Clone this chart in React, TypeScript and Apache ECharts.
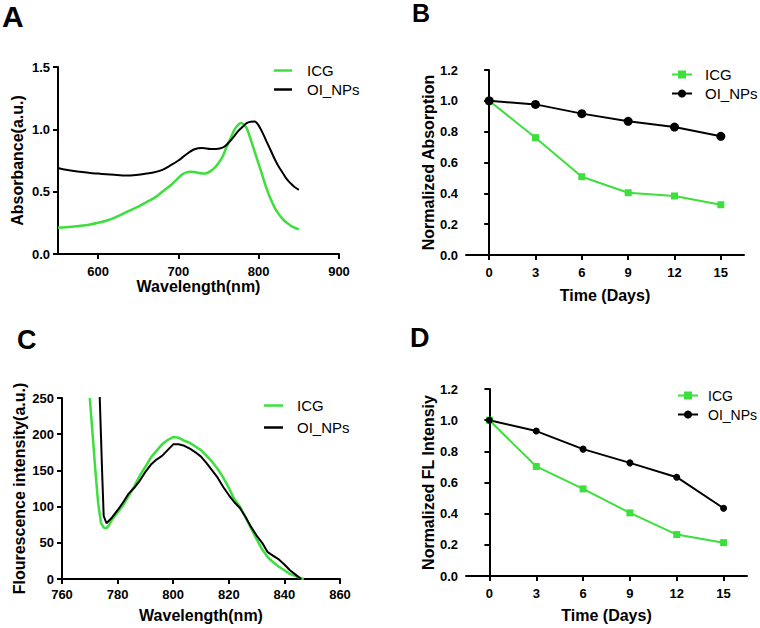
import React, { useEffect, useRef } from "react";
import * as echarts from "echarts";

const GREEN = "#3ddf3d";
const BLACK = "#000000";
const FONT = "Liberation Sans, Arial, sans-serif";

// Panel A: absorbance spectra
const aWlICG = [550, 560, 570, 580, 590, 600, 610, 620, 630, 640, 650, 660, 670, 680, 690, 700, 705, 710, 715, 720, 725, 730, 735, 740, 745, 750, 755, 760, 765, 770, 775, 778, 781, 785, 790, 795, 800, 805, 810, 815, 820, 825, 830, 835, 840, 845, 850];
const aICG = [0.21, 0.215, 0.22, 0.228, 0.237, 0.25, 0.267, 0.29, 0.32, 0.35, 0.38, 0.415, 0.45, 0.5, 0.55, 0.61, 0.64, 0.655, 0.66, 0.658, 0.65, 0.645, 0.648, 0.665, 0.69, 0.73, 0.78, 0.86, 0.93, 1.0, 1.04, 1.05, 1.04, 1.01, 0.92, 0.82, 0.72, 0.62, 0.52, 0.44, 0.37, 0.32, 0.28, 0.25, 0.227, 0.21, 0.198];
const aWlOI = [550, 560, 570, 580, 590, 600, 610, 620, 630, 640, 650, 660, 670, 680, 690, 700, 710, 720, 730, 740, 750, 757, 765, 770, 775, 780, 785, 790, 795, 800, 805, 810, 815, 820, 825, 830, 835, 840, 845, 850];
const aOI = [0.69, 0.675, 0.665, 0.657, 0.65, 0.645, 0.64, 0.635, 0.63, 0.63, 0.635, 0.645, 0.655, 0.675, 0.71, 0.75, 0.8, 0.84, 0.85, 0.842, 0.845, 0.86, 0.91, 0.95, 0.99, 1.02, 1.05, 1.06, 1.062, 1.03, 0.97, 0.9, 0.83, 0.76, 0.7, 0.65, 0.6, 0.565, 0.535, 0.515];

// Panel B: normalized absorption vs time
const days = [0, 3, 6, 9, 12, 15];
const bICG = [1.0, 0.761, 0.508, 0.404, 0.383, 0.326];
const bOI = [1.0, 0.977, 0.917, 0.867, 0.83, 0.77];

// Panel C: fluorescence spectra
const cWlICG = [770, 771, 772, 773, 774, 775, 776, 777, 778, 780, 782, 784, 786, 788, 790, 792, 794, 796, 798, 800, 802, 804, 806, 808, 810, 812, 814, 816, 818, 820, 822, 824, 826, 828, 830, 832, 834, 836, 838, 840, 842, 844, 846, 847];
const cICG = [250, 200, 150, 105, 78, 71, 70, 75, 82, 92, 102, 115, 128, 143, 155, 168, 177, 186, 192, 196, 195, 191, 188, 183, 178, 170, 162, 152, 140, 126, 110, 100, 85, 70, 55, 41, 30, 23, 17, 12, 7, 4, 1, 0];
const cWlOI = [773.5, 774, 774.5, 775, 776, 778, 780, 782, 784, 786, 788, 790, 792, 794, 796, 798, 800, 802, 804, 806, 808, 810, 812, 814, 816, 818, 820, 822, 824, 826, 828, 830, 832, 834, 836, 838, 840, 842, 844, 846];
const cOI = [260, 200, 140, 87, 77, 85, 95, 106, 118, 126, 136, 148, 158, 165, 170, 178, 186, 186, 184, 180, 175, 169, 160, 150, 140, 127, 116, 106, 98, 86, 72, 60, 50, 37, 32, 27, 20, 12, 6, 0];

// Panel D: normalized FL intensity vs time
const dICG = [1.0, 0.703, 0.559, 0.405, 0.266, 0.214];
const dOI = [1.0, 0.93, 0.814, 0.726, 0.634, 0.435];

const seriesNames = ["ICG", "OI_NPs"];
const aTicks = [600, 700, 800, 900];
const dayTicks = [0, 3, 6, 9, 12, 15];

const zip = (xs: number[], ys: number[]) => xs.map((x, i) => [x, ys[i]]);

const axisCommon = {
  axisLine: { show: true, lineStyle: { color: "#000", width: 2 } },
  axisTick: { show: true, inside: false, length: 5, lineStyle: { color: "#000", width: 2 } },
  splitLine: { show: false },
  nameLocation: "middle" as const,
  nameMoveOverlap: false,
  nameTextStyle: { fontFamily: FONT, fontWeight: "bold" as const, fontSize: 16, color: "#000" },
};
const labelCommon = { fontFamily: FONT, fontWeight: "bold" as const, fontSize: 13, color: "#000" };

function buildOption(p: string): any {
  const legendText = { fontFamily: FONT, fontSize: 15, color: "#000", height: 17, lineHeight: 17 };
  if (p === "A") {
    return {
      animation: false,
      grid: { left: 58, top: 67, width: 281, height: 187 },
      xAxis: {
        ...axisCommon, type: "value", min: 550, max: 900, name: "Wavelength(nm)", nameGap: 24,
        axisTick: { ...axisCommon.axisTick, customValues: aTicks },
        axisLabel: { ...labelCommon, margin: 11, customValues: aTicks },
      },
      yAxis: {
        ...axisCommon, type: "value", min: 0, max: 1.5, interval: 0.5, name: "Absorbance(a.u.)", nameGap: 33,
        axisLabel: { ...labelCommon, margin: 8, formatter: (v: number) => v.toFixed(1) },
      },
      legend: {
        orient: "vertical", left: 269, top: 57, icon: "rect", itemWidth: 18, itemHeight: 2.5, itemGap: 2,
        data: seriesNames, textStyle: { ...legendText, padding: [0, 0, 0, 10] },
      },
      graphic: [{ type: "text", left: 2, top: 1, style: { text: "A", font: `bold 30px ${FONT}`, fill: "#000" } }],
      series: [
        { name: "ICG", type: "line", symbol: "none", data: zip(aWlICG, aICG), lineStyle: { color: GREEN, width: 2.5 }, itemStyle: { color: GREEN }, smooth: 0.3 },
        { name: "OI_NPs", type: "line", symbol: "none", data: zip(aWlOI, aOI), lineStyle: { color: BLACK, width: 2 }, itemStyle: { color: BLACK }, smooth: 0.3 },
      ],
    };
  }
  if (p === "B" || p === "D") {
    const isB = p === "B";
    return {
      animation: false,
      grid: isB ? { left: 86, top: 70, width: 278, height: 185 } : { left: 86, top: 75, width: 281, height: 187 },
      xAxis: {
        ...axisCommon, type: "value", min: -1.5, max: 16.5, name: "Time (Days)", nameGap: isB ? 32 : 31,
        axisTick: { ...axisCommon.axisTick, customValues: dayTicks },
        axisLabel: { ...labelCommon, margin: 11, customValues: dayTicks },
      },
      yAxis: {
        ...axisCommon, type: "value", min: 0, max: 1.2, interval: 0.2,
        name: isB ? "Normalized Absorption" : "Normalized FL Intensiy", nameGap: 30,
        axisLabel: { ...labelCommon, margin: 8, formatter: (v: number) => v.toFixed(1) },
      },
      legend: {
        orient: "vertical", left: isB ? 286 : 292, top: isB ? 61 : 68, itemWidth: 20, itemHeight: 10, itemGap: 2,
        data: seriesNames,
        textStyle: { ...legendText, fontSize: isB ? 15 : 14, padding: [0, 0, 0, isB ? 8 : 5] },
      },
      graphic: [{ type: "text", left: isB ? 32 : 30, top: isB ? 0 : 10, style: { text: p, font: `bold ${isB ? 25 : 27}px ${FONT}`, fill: "#000" } }],
      series: [
        { name: "ICG", type: "line", symbol: "rect", symbolSize: 7, data: zip(days, isB ? bICG : dICG), lineStyle: { color: GREEN, width: 2 }, itemStyle: { color: GREEN } },
        { name: "OI_NPs", type: "line", symbol: "circle", symbolSize: isB ? 9 : 7, data: zip(days, isB ? bOI : dOI), lineStyle: { color: BLACK, width: 2 }, itemStyle: { color: BLACK } },
      ],
    };
  }
  // C
  return {
    animation: false,
    grid: { left: 62, top: 84, width: 278, height: 185 },
    xAxis: {
      ...axisCommon, type: "value", min: 760, max: 860, interval: 20, name: "Wavelength(nm)", nameGap: 28,
      axisLabel: { ...labelCommon, margin: 9 },
    },
    yAxis: {
      ...axisCommon, type: "value", min: 0, max: 250, interval: 50, name: "Flourescence intensity(a.u.)", nameGap: 35,
      axisLabel: { ...labelCommon, margin: 8 },
    },
    legend: {
      orient: "vertical", left: 259, top: 78, icon: "rect", itemWidth: 19, itemHeight: 2.5, itemGap: 5,
      data: seriesNames, textStyle: { ...legendText, padding: [0, 0, 0, 9] },
    },
    graphic: [{ type: "text", left: 17, top: 12, style: { text: "C", font: `bold 27px ${FONT}`, fill: "#000" } }],
    series: [
      { name: "ICG", type: "line", symbol: "none", data: zip(cWlICG, cICG), lineStyle: { color: GREEN, width: 2.5 }, itemStyle: { color: GREEN }, clip: true },
      { name: "OI_NPs", type: "line", symbol: "none", data: zip(cWlOI, cOI), lineStyle: { color: BLACK, width: 2 }, itemStyle: { color: BLACK }, clip: true },
    ],
  };
}

function Panel({ p, left, top }: { p: string; left: number; top: number }) {
  const ref = useRef<HTMLDivElement>(null);
  useEffect(() => {
    if (!ref.current) return;
    const chart = echarts.init(ref.current, undefined, { renderer: "svg" });
    chart.setOption(buildOption(p));
    return () => chart.dispose();
  }, [p]);
  return <div ref={ref} style={{ position: "absolute", left, top, width: 380, height: 314 }} />;
}

export default function App() {
  return (
    <div style={{ position: "fixed", left: 0, top: 0, width: 760, height: 628, background: "#fff" }}>
      <Panel p="A" left={0} top={0} />
      <Panel p="B" left={380} top={0} />
      <Panel p="C" left={0} top={314} />
      <Panel p="D" left={380} top={314} />
    </div>
  );
}
